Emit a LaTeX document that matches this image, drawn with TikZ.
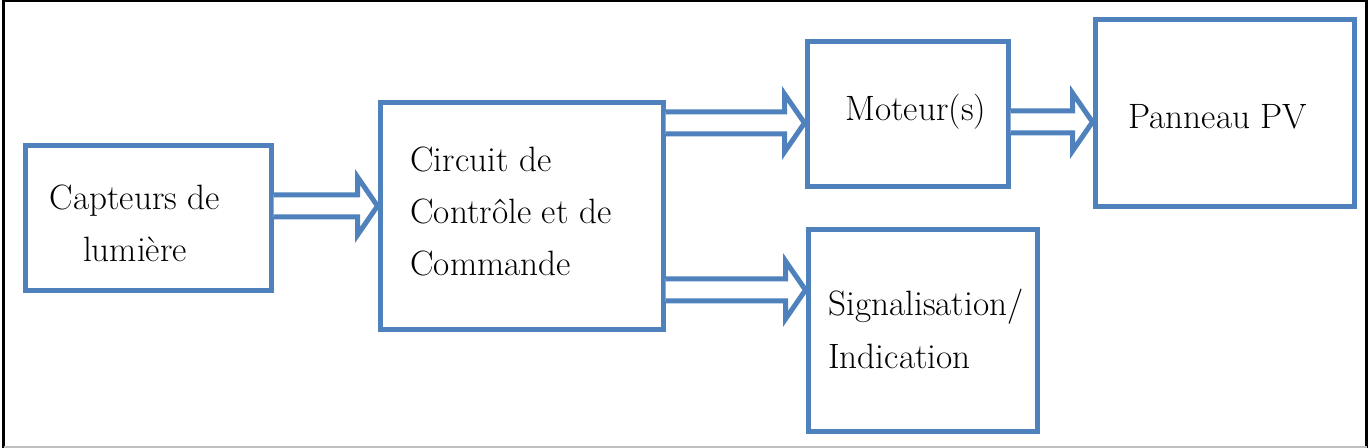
\documentclass[tikz,border=0pt]{standalone}
\usetikzlibrary{calc}
\definecolor{boxblue}{RGB}{79,129,189}
\tikzset{
  blockbox/.style={draw=boxblue, line width=2.5pt, rectangle, inner sep=0pt, fill=white},
  lbl/.style={inner sep=0pt, font=\rmfamily\fontsize{17.6}{26.2}\selectfont, text=black},
  dblarrow/.style={draw=boxblue, line width=2.5pt, line join=miter, fill=white},
}
\newcommand\dblarr[4]{%
  \coordinate (#3s) at (#1.east |- {(0,#4)});
  \coordinate (#3t) at (#2.west |- {(0,#4)});
  \draw[dblarrow] ($(#3s)+(0,-11)$) -- ($(#3t)+(-20,-11)$) -- ($(#3t)+(-20,-29)$) -- (#3t)
     -- ($(#3t)+(-20,29)$) -- ($(#3t)+(-20,11)$) -- ($(#3s)+(0,11)$);
}
\begin{document}
\begin{tikzpicture}[x=0.5pt,y=-0.5pt]
\useasboundingbox (0,0) rectangle (1372,448);
% outer frame
\draw[black, line width=1.5pt] (3.5,448) -- (3.5,1) -- (1366.5,1) -- (1366.5,448);
\draw[black!25, line width=1pt] (3.5,447) -- (1366.5,447);
% boxes
\node[blockbox, minimum width=123pt, minimum height=72.5pt] (cap) at (148,218.5) {};
\node[blockbox, minimum width=141.5pt, minimum height=113.5pt] (cir) at (521.5,216.5) {};
\node[blockbox, minimum width=100.5pt, minimum height=72.5pt] (mot) at (907.5,114.5) {};
\node[blockbox, minimum width=129.5pt, minimum height=93.5pt] (pan) at (1224.5,113.5) {};
\node[blockbox, minimum width=114.5pt, minimum height=101pt] (sig) at (922.5,331) {};
% arrows
\dblarr{cap}{cir}{a}{206}
\dblarr{cir}{mot}{b}{123}
\dblarr{mot}{pan}{c}{122}
\dblarr{cir}{sig}{d}{290}
% texts
\node[lbl, align=center, anchor=north] (tcap) at (135,184) {Capteurs de\\lumière};
\node[lbl, align=left, anchor=north west] (tcir) at (410,146) {Circuit de\\Contrôle et de\\Commande};
\node[lbl, align=left, anchor=north west] (tmot) at (845,94) {Moteur(s)};
\node[lbl, align=left, anchor=north west] (tpan) at (1128,104) {Panneau PV};
\node[lbl, align=left, anchor=north west] (tsig) at (828,289) {Signalisation/\\Indication};
\end{tikzpicture}
\end{document}
